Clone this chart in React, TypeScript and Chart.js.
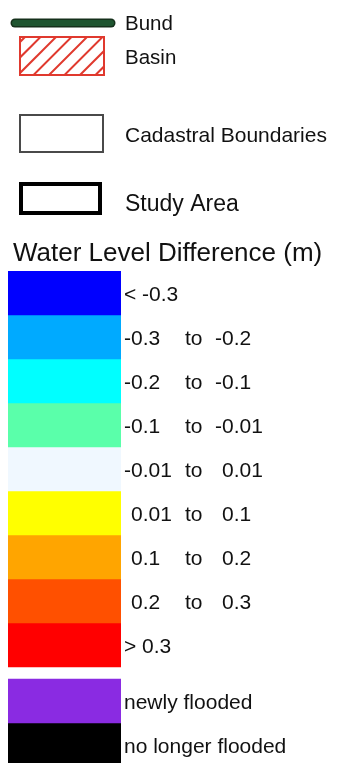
import React, { useEffect, useRef } from "react";
import { Chart, registerables } from "chart.js";

Chart.register(...registerables);

// ---- data ----
const titleText = "Water Level Difference (m)";
const topLabels = ["Bund", "Basin", "Cadastral Boundaries", "Study Area"];

const rowLower = ["< -0.3", "-0.3", "-0.2", "-0.1", "-0.01", "0.01", "0.1", "0.2", "> 0.3", "newly flooded", "no longer flooded"];
const rowUpper = ["", "-0.2", "-0.1", "-0.01", "0.01", "0.1", "0.2", "0.3", "", "", ""];
const rowColors = ["#0000FF", "#00AAFF", "#00FFFF", "#5AFFAA", "#F0F8FF", "#FFFF00", "#FFA500", "#FF5000", "#FF0000", "#8A2BE2", "#000000"];
const rowStart = [0, 1, 2, 3, 4, 5, 6, 7, 8, 9.2727, 10.2727];
const rowEnd = [1, 2, 3, 4, 5, 6, 7, 8, 9, 10.2727, 11.2727];
const connector = "to";

const FONT = '"Liberation Sans", Arial, Helvetica, sans-serif';

const legendPlugin = {
  id: "legendDraw",
  afterDraw(chart: any) {
    const ctx: CanvasRenderingContext2D = chart.ctx;
    const ys = chart.scales.y;
    ctx.save();

    // Bund line
    ctx.lineCap = "round";
    ctx.strokeStyle = "#15301b";
    ctx.lineWidth = 9;
    ctx.beginPath();
    ctx.moveTo(15, 23);
    ctx.lineTo(111, 23);
    ctx.stroke();
    ctx.strokeStyle = "#1f5530";
    ctx.lineWidth = 6;
    ctx.beginPath();
    ctx.moveTo(15, 23);
    ctx.lineTo(111, 23);
    ctx.stroke();
    ctx.lineCap = "butt";

    // Basin hatched rect
    ctx.save();
    ctx.beginPath();
    ctx.rect(20, 37, 84, 38);
    ctx.clip();
    ctx.strokeStyle = "#e0392e";
    ctx.lineWidth = 2;
    for (let x0 = 25; x0 < 150; x0 += 15.5) {
      ctx.beginPath();
      ctx.moveTo(x0, 37);
      ctx.lineTo(x0 - 38, 75);
      ctx.stroke();
    }
    ctx.restore();
    ctx.strokeStyle = "#e0392e";
    ctx.lineWidth = 2;
    ctx.strokeRect(20, 37, 84, 38);

    // Cadastral rect
    ctx.strokeStyle = "#4a4a4a";
    ctx.lineWidth = 2;
    ctx.strokeRect(20, 115, 83, 37);

    // Study area rect
    ctx.strokeStyle = "#000000";
    ctx.lineWidth = 4;
    ctx.strokeRect(21, 184, 79, 29);

    // Top labels
    ctx.fillStyle = "#111111";
    ctx.textBaseline = "alphabetic";
    ctx.textAlign = "left";
    ctx.font = `20.5px ${FONT}`;
    ctx.fillText(topLabels[0], 125, 30);
    ctx.fillText(topLabels[1], 125, 64);
    ctx.font = `21px ${FONT}`;
    ctx.fillText(topLabels[2], 125, 142);
    ctx.font = `23px ${FONT}`;
    ctx.fillText(topLabels[3], 125, 211);

    // Title
    ctx.font = `26px ${FONT}`;
    ctx.fillText(titleText, 13, 261);

    // Row labels
    ctx.font = `21px ${FONT}`;
    for (let i = 0; i < rowLower.length; i++) {
      const yc = (ys.getPixelForValue(rowStart[i]) + ys.getPixelForValue(rowEnd[i])) / 2;
      const base = yc + 8;
      if (!rowUpper[i]) {
        ctx.fillText(rowLower[i], 124, base);
      } else {
        const lx = rowLower[i].startsWith("-") ? 124 : 131;
        const ux = rowUpper[i].startsWith("-") ? 215 : 222;
        ctx.fillText(rowLower[i], lx, base);
        ctx.fillText(connector, 185, base);
        ctx.fillText(rowUpper[i], ux, base);
      }
    }
    ctx.restore();
  },
};

export default function App() {
  const ref = useRef<HTMLCanvasElement | null>(null);

  useEffect(() => {
    if (!ref.current) return;
    const chart = new Chart(ref.current, {
      type: "bar",
      data: {
        labels: ["swatch"],
        datasets: rowColors.map((c, i) => ({
          label: rowLower[i],
          data: [[rowStart[i], rowEnd[i]]] as any,
          backgroundColor: c,
          borderWidth: 0,
          barPercentage: 1,
          categoryPercentage: 1,
          grouped: false,
        })) as any,
      },
      options: {
        responsive: false,
        animation: false,
        devicePixelRatio: 1,
        layout: { padding: { left: 8, right: 229, top: 271, bottom: 0 } },
        plugins: {
          legend: { display: false },
          title: { display: false },
          tooltip: { enabled: false },
        },
        scales: {
          x: { type: "category", display: false, grid: { display: false } },
          y: {
            type: "linear",
            display: false,
            reverse: true,
            min: rowStart[0],
            max: rowEnd[rowEnd.length - 1],
          },
        },
      },
      plugins: [legendPlugin],
    });
    return () => chart.destroy();
  }, []);

  return (
    <div
      style={{
        position: "fixed",
        left: 0,
        top: 0,
        width: 350,
        height: 763,
        overflow: "hidden",
        background: "#ffffff",
      }}
    >
      <canvas ref={ref} width={350} height={767} style={{ display: "block", width: 350, height: 767 }} />
    </div>
  );
}
